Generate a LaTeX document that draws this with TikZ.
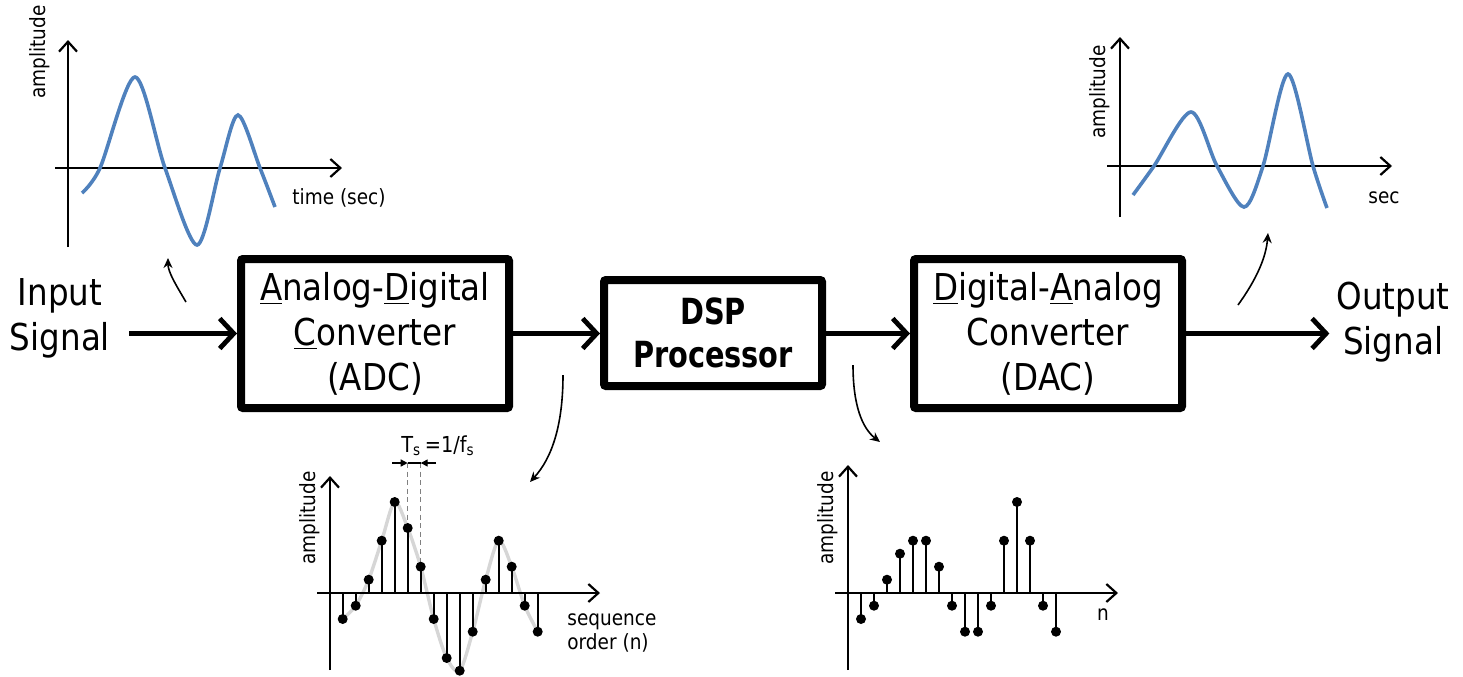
\documentclass[tikz,border=0pt]{standalone}
\usepackage{fontspec}
\setmainfont{DejaVu Sans}[FakeStretch=0.88]
\newfontfamily\dspfont{DejaVu Sans}[FakeStretch=0.8]
\usepackage{tikz}
\usetikzlibrary{arrows.meta}
\usepackage{xcolor}
\definecolor{wave}{RGB}{79,129,189}

\begin{document}
\begin{tikzpicture}[x=0.5pt,y=-0.5pt,
    block/.style={draw,line width=4pt,rounded corners=1pt,align=center,inner sep=0pt,
                  font=\fontsize{18.5}{22.5}\selectfont},
    bigtext/.style={align=center,font=\fontsize{18.5}{22.5}\selectfont},
    flow/.style={-{Straight Barb[length=7pt,width=15pt]},line width=2.4pt},
    axis/.style={-{Straight Barb[length=5pt,width=9pt]},line width=1.1pt},
    hint/.style={-{Stealth[length=5pt,width=4.5pt]},line width=0.8pt},
    signal/.style={draw=wave,line width=1.8pt},
    envelope/.style={draw=black!16,line width=1.7pt},
    stem/.style={line width=1.1pt},
    lbl/.style={font=\fontsize{10.5}{12}\selectfont,inner sep=0pt}]
  \useasboundingbox (0,0) rectangle (1463,676);

  \node[bigtext] (in) at (60,318) {Input\\Signal};
  \node[block,minimum width=134pt,minimum height=74.5pt] (adc) at (375,333.5)
       {\underline{A}nalog-\underline{D}igital\\\underline{C}onverter\\(ADC)};
  \node[block,minimum width=109pt,minimum height=53pt,
        font=\dspfont\bfseries\fontsize{18}{21.5}\selectfont] (dsp) at (713,333) {DSP\\Processor};
  \node[block,minimum width=134pt,minimum height=74.5pt] (dac) at (1048,333.5)
       {\underline{D}igital-\underline{A}nalog\\Converter\\(DAC)};
  \node[bigtext] (out) at (1393,322) {Output\\Signal};

  \draw[flow,shorten <=6pt] (in.east |- adc.west) -- (adc.west);
  \draw[flow] (adc.east) -- (dsp.west |- adc.east);
  \draw[flow] (dsp.east |- dac.west) -- (dac.west);
  \draw[flow] (dac.east) -- (out.west |- dac.east);

  \coordinate (t1) at (186,302); \coordinate (h1) at (168,258);
  \coordinate (t2) at (563,375); \coordinate (h2) at (530,482);
  \coordinate (t3) at (853,365); \coordinate (h3) at (880,442);
  \coordinate (t4) at (1238,305); \coordinate (h4) at (1268,233);
  \draw[hint] (t1) .. controls (176,285) and (168,272) .. (h1);
  \draw[hint] (t2) .. controls (563,425) and (552,458) .. (h2);
  \draw[hint] (t3) .. controls (853,405) and (862,428) .. (h3);
  \draw[hint] (t4) .. controls (1256,280) and (1266,258) .. (h4);

  \draw[axis] (68,247) -- (68,40);
  \draw[axis] (55,168) -- (342,168);
  \node[lbl,rotate=90] (amp1) at (40,52) {amplitude};
  \node[lbl,anchor=west] (time1) at (292,198) {time (sec)};
  \draw[signal] plot[smooth] coordinates {(82,193) (100,168) (135,77) (165,168) (197,245)
        (220,168) (238,115) (260,168) (275,207)};

  \draw[axis] (1120,217) -- (1120,37);
  \draw[axis] (1107,166) -- (1392,166);
  \node[lbl,rotate=90] (amp4) at (1100,92) {amplitude};
  \node[lbl] (time4) at (1384,198) {sec};
  \draw[signal] plot[smooth] coordinates {(1133,195) (1154,166) (1191,112) (1217,166) (1244,207)
        (1263,166) (1288,74) (1313,166) (1327,208)};

  \draw[envelope] plot[smooth] coordinates {(342.7,619) (355.7,605.7) (368.7,579.7) (381.7,540.7)
        (394.7,502) (407.7,528) (420.7,566.7) (433.7,619) (446.7,658) (459.7,670.7) (472.7,631.7)
        (485.7,579.7) (498.7,540.7) (511.7,566.7) (524.7,605.7) (537.7,631.7)};
  \draw[gray,line width=0.7pt,dash pattern=on 2.5pt off 1.8pt] (407.7,463) -- (407.7,528);
  \draw[gray,line width=0.7pt,dash pattern=on 2.5pt off 1.8pt] (420.7,463) -- (420.7,566.7);
  \draw[-{Triangle[length=3.5pt,width=3.5pt]},line width=0.7pt] (392,463) -- (407.7,463);
  \draw[line width=0.7pt] (407.7,463) -- (420.7,463);
  \draw[-{Triangle[length=3.5pt,width=3.5pt]},line width=0.7pt] (436,463) -- (420.7,463);
  \node[lbl,font=\fontsize{11}{13}\selectfont] (ts) at (438,446) {T\textsubscript{s}\,=1/f\textsubscript{s}};
  \draw[axis] (330,670) -- (330,476);
  \draw[axis] (317,593) -- (600,593);
  \node[lbl,rotate=90] (amp2) at (310,518) {amplitude};
  \node[lbl,align=left,anchor=north west] (seq) at (567,613) {sequence\\order (n)};
  \foreach \v [count=\i from 0] in {26,12.7,-13.3,-52.3,-91,-65,-26.3,26,65,77.7,38.7,-13.3,-52.3,-26.3,12.7,38.7} {
    \draw[stem] ({342.7+13*\i},593) -- ({342.7+13*\i},{593+\v});
    \fill ({342.7+13*\i},{593+\v}) circle[radius=2.5pt];
  }

  \draw[axis] (848,670) -- (848,465);
  \draw[axis] (835,593) -- (1118,593);
  \node[lbl,rotate=90] (amp3) at (828,518) {amplitude};
  \node[lbl] (n3) at (1103,615) {n};
  \foreach \v [count=\i from 0] in {26,12.7,-13.3,-39.3,-52.3,-52.3,-26.3,12.7,38.7,38.7,12.7,-52.3,-91,-52.3,12.7,38.7} {
    \draw[stem] ({861+13*\i},593) -- ({861+13*\i},{593+\v});
    \fill ({861+13*\i},{593+\v}) circle[radius=2.5pt];
  }
\end{tikzpicture}
\end{document}
